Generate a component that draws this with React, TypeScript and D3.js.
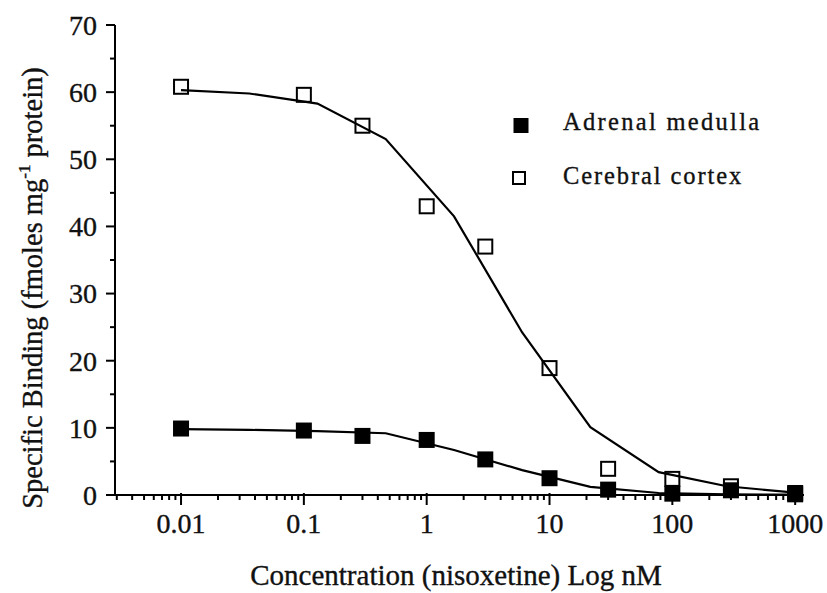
import React from "react";
import * as d3 from "d3";

const concentrations = [0.01, 0.1, 0.3, 1, 3, 10, 30, 100, 300, 1000];
const cortexValues = [60.8, 59.6, 55.0, 43.0, 37.0, 18.9, 3.9, 2.4, 1.3, 0.3];
const medullaValues = [9.9, 9.6, 8.8, 8.2, 5.3, 2.5, 0.8, 0.2, 0.7, 0.1];

// Fitted curves (at their vertices)
const fitConcentrations = [0.01, 0.0359, 0.129, 0.464, 1.67, 5.99, 21.5, 77.4, 278, 1000];
const cortexFit = [60.3, 59.8, 58.3, 53.0, 41.5, 24.2, 10.1, 3.4, 1.3, 0.35];
const medullaFit = [9.8, 9.7, 9.5, 9.2, 6.7, 3.7, 1.2, 0.3, 0.1, 0.05];

const xTickValues = [0.01, 0.1, 1, 10, 100, 1000];
const xTickLabels = ["0.01", "0.1", "1", "10", "100", "1000"];
const yTickValues = [0, 10, 20, 30, 40, 50, 60, 70];
const yMinorTickValues = [5, 15, 25, 35, 45, 55, 65];

const seriesNames = ["Adrenal medulla", "Cerebral cortex"];

const FONT = "'Liberation Serif', 'Times New Roman', serif";

export default function App() {
  const W = 827;
  const H = 593;
  const x = d3.scaleLog().domain([0.0029, 1180]).range([115, 804]);
  const y = d3.scaleLinear().domain([0, 70]).range([495, 25]);

  const [x0, x1] = x.range();
  const [yb, yt] = y.range();

  const minorX: number[] = [];
  for (let d = -3; d <= 3; d++) {
    for (let m = 2; m <= 9; m++) {
      const v = m * Math.pow(10, d);
      if (v >= x.domain()[0] && v <= x.domain()[1]) minorX.push(v);
    }
  }

  const line = d3
    .line<[number, number]>()
    .x((d) => x(d[0]))
    .y((d) => y(d[1]))
    .curve(d3.curveLinear);

  const cortexLine = line(fitConcentrations.map((c, i) => [c, cortexFit[i]]));
  const medullaLine = line(fitConcentrations.map((c, i) => [c, medullaFit[i]]));

  const ms = 16;
  const os = 14;
  const textStyle = { stroke: "#111", strokeWidth: 0.35 };

  return (
    <svg width={W} height={H} style={{ display: "block", position: "absolute", left: 0, top: 0, background: "#fff" }}>
      <rect x={0} y={0} width={W} height={H} fill="#fff" />
      {/* axes */}
      <line x1={x0} x2={x0} y1={yb + 1} y2={yt} stroke="#000" strokeWidth={2} />
      <line x1={x0 - 1} x2={x1} y1={yb} y2={yb} stroke="#000" strokeWidth={2} />
      {/* y ticks */}
      {yTickValues.map((v) => (
        <g key={"yt" + v}>
          <line x1={x0 - 9} x2={x0} y1={y(v)} y2={y(v)} stroke="#000" strokeWidth={2} />
          <text
            x={97}
            y={y(v)}
            dy="0.35em"
            textAnchor="end"
            fontFamily={FONT}
            fontSize={28}
            fill="#111"
            style={textStyle}
          >
            {v}
          </text>
        </g>
      ))}
      {yMinorTickValues.map((v) => (
        <line key={"ym" + v} x1={x0 - 5} x2={x0} y1={y(v)} y2={y(v)} stroke="#000" strokeWidth={2} />
      ))}
      {/* x ticks */}
      {minorX.map((v, i) => (
        <line key={"xm" + i} x1={x(v)} x2={x(v)} y1={yb} y2={yb + 5} stroke="#000" strokeWidth={2} />
      ))}
      {xTickValues.map((v, i) => (
        <g key={"xt" + v}>
          <line x1={x(v)} x2={x(v)} y1={yb - 2} y2={yb + 10} stroke="#000" strokeWidth={2} />
          <text
            x={x(v)}
            y={533}
            textAnchor="middle"
            fontFamily={FONT}
            fontSize={28}
            fill="#111"
            style={textStyle}
          >
            {xTickLabels[i]}
          </text>
        </g>
      ))}
      {/* axis titles */}
      <text x={456} y={585} textAnchor="middle" fontFamily={FONT} fontSize={29} fill="#111" style={textStyle}>
        Concentration (nisoxetine) Log nM
      </text>
      <text
        transform={`translate(42, 288) rotate(-90)`}
        textAnchor="middle"
        fontFamily={FONT}
        fontSize={28.5}
        fill="#111"
        style={textStyle}
      >
        Specific Binding (fmoles mg
        <tspan fontSize={17} dy={-12}>-1</tspan>
        <tspan dy={12}>{"  protein)"}</tspan>
      </text>
      {/* fitted curves */}
      <path d={cortexLine || ""} fill="none" stroke="#000" strokeWidth={2.2} />
      <path d={medullaLine || ""} fill="none" stroke="#000" strokeWidth={2.2} />
      {/* open squares: cerebral cortex */}
      {concentrations.map((c, i) => (
        <rect
          key={"o" + i}
          x={x(c) - os / 2}
          y={y(cortexValues[i]) - os / 2}
          width={os}
          height={os}
          fill="none"
          stroke="#000"
          strokeWidth={2}
        />
      ))}
      {/* filled squares: adrenal medulla */}
      {concentrations.map((c, i) => (
        <rect
          key={"f" + i}
          x={x(c) - ms / 2}
          y={y(medullaValues[i]) - ms / 2}
          width={ms}
          height={ms}
          fill="#000"
        />
      ))}
      {/* legend */}
      <rect x={521 - 7.5} y={125.5 - 7.5} width={15} height={15} fill="#000" />
      <text x={563} y={130} fontFamily={FONT} fontSize={24.5} letterSpacing={2.3} fill="#111" style={textStyle}>
        {seriesNames[0]}
      </text>
      <rect x={519 - 6} y={178 - 6} width={12} height={12} fill="none" stroke="#000" strokeWidth={2} />
      <text x={563} y={184} fontFamily={FONT} fontSize={24.5} letterSpacing={1.9} fill="#111" style={textStyle}>
        {seriesNames[1]}
      </text>
    </svg>
  );
}
